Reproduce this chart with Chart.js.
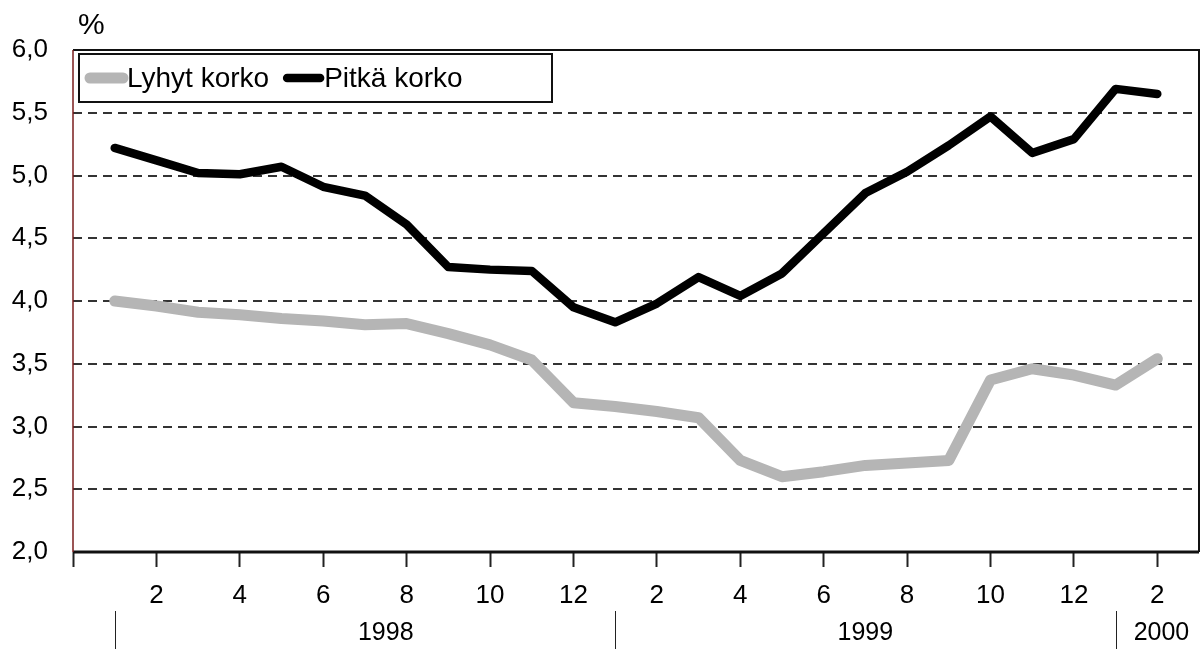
<!DOCTYPE html>
<html>
<head>
<meta charset="utf-8">
<script src="https://cdn.jsdelivr.net/npm/chart.js@4/dist/chart.umd.min.js"></script>
<style>
  html, body { margin: 0; padding: 0; background: #fff; }
  #wrap { width: 1203px; height: 649px; position: relative; }
</style>
</head>
<body>
<div id="wrap"><canvas id="korko-chart"></canvas></div>
<script>
// kuukaudet 1/1998 - 2/2000
const months = ["1","2","3","4","5","6","7","8","9","10","11","12",
                "1","2","3","4","5","6","7","8","9","10","11","12",
                "1","2"];
const lyhytKorko = [4.00, 3.96, 3.91, 3.89, 3.86, 3.84, 3.81, 3.82, 3.74, 3.65, 3.53, 3.19,
                    3.16, 3.12, 3.07, 2.73, 2.60, 2.64, 2.69, 2.71, 2.73, 3.37, 3.46, 3.41,
                    3.33, 3.54];
const pitkaKorko = [5.22, 5.12, 5.02, 5.01, 5.07, 4.91, 4.84, 4.61, 4.27, 4.25, 4.24, 3.95,
                    3.83, 3.98, 4.19, 4.04, 4.22, 4.54, 4.86, 5.03, 5.24, 5.47, 5.18, 5.29,
                    5.69, 5.65];
const yearLabels = ["1998", "1999", "2000"];
const yearStart = [0, 12, 24];     // tammikuun indeksi
const yearCenter = [6.5, 18, 25.1]; // vuoden tekstin kohta

const FONT = "'Liberation Sans', Arial, sans-serif";

const toPoints = (arr) => arr.map((v, i) => ({ x: i, y: v }));

// kehys
const framePlugin = {
  id: "frame",
  beforeDatasetsDraw(chart) {
    const { ctx, chartArea: a } = chart;
    ctx.save();
    ctx.strokeStyle = "#111";
    ctx.lineWidth = 2;
    ctx.beginPath();
    ctx.moveTo(a.left, a.top);
    ctx.lineTo(a.right, a.top);
    ctx.lineTo(a.right, a.bottom);
    ctx.stroke();
    ctx.lineWidth = 3;
    ctx.beginPath();
    ctx.moveTo(a.left, a.bottom);
    ctx.lineTo(a.right, a.bottom);
    ctx.stroke();
    ctx.strokeStyle = "#7a1c1c";
    ctx.lineWidth = 1.5;
    ctx.beginPath();
    ctx.moveTo(a.left, a.top);
    ctx.lineTo(a.left, a.bottom);
    ctx.stroke();
    ctx.restore();
  },
};

// legenda kehyksen sisällä
const legendPlugin = {
  id: "boxLegend",
  afterDatasetsDraw(chart) {
    const { ctx, chartArea: a } = chart;
    const boxX = a.left + 6, boxY = a.top + 4, boxW = 473, boxH = 48;
    ctx.save();
    ctx.fillStyle = "#fff";
    ctx.fillRect(boxX, boxY, boxW, boxH);
    ctx.strokeStyle = "#111";
    ctx.lineWidth = 2;
    ctx.strokeRect(boxX, boxY, boxW, boxH);
    ctx.font = "28px " + FONT;
    ctx.textBaseline = "middle";
    const midY = boxY + boxH / 2;
    let x = boxX + 7;
    chart.data.datasets.forEach((ds) => {
      ctx.strokeStyle = ds.borderColor;
      ctx.lineWidth = ds.borderWidth;
      ctx.lineCap = "round";
      ctx.beginPath();
      ctx.moveTo(x + 4, midY);
      ctx.lineTo(x + 37, midY);
      ctx.stroke();
      x += 41;
      ctx.fillStyle = "#000";
      ctx.fillText(ds.label, x, midY + 1);
      x += ctx.measureText(ds.label).width + 14;
    });
    ctx.restore();
  },
};

// vuodet ja erotinviivat, %-merkki
const yearPlugin = {
  id: "years",
  afterDraw(chart) {
    const { ctx } = chart;
    const xs = chart.scales.x;
    ctx.save();
    ctx.strokeStyle = "#222";
    ctx.lineWidth = 1;
    yearStart.forEach((v) => {
      const px = Math.round(xs.getPixelForValue(v)) + 0.5;
      ctx.beginPath();
      ctx.moveTo(px, 611);
      ctx.lineTo(px, 649);
      ctx.stroke();
    });
    ctx.fillStyle = "#000";
    ctx.font = "25px " + FONT;
    ctx.textAlign = "center";
    ctx.textBaseline = "middle";
    yearLabels.forEach((t, i) => {
      ctx.fillText(t, xs.getPixelForValue(yearCenter[i]), 633);
    });
    ctx.textAlign = "left";
    ctx.font = "30px " + FONT;
    ctx.fillText("%", 78, 26);
    ctx.restore();
  },
};

const ctx = document.getElementById("korko-chart").getContext("2d");
new Chart(ctx, {
  type: "line",
  data: {
    datasets: [
      {
        label: "Lyhyt korko",
        data: toPoints(lyhytKorko),
        borderColor: "#b5b5b5",
        borderWidth: 11,
        pointRadius: 0,
        tension: 0,
        borderJoinStyle: "round",
        borderCapStyle: "round",
      },
      {
        label: "Pitkä korko",
        data: toPoints(pitkaKorko),
        borderColor: "#000",
        borderWidth: 8.5,
        pointRadius: 0,
        tension: 0,
        borderJoinStyle: "round",
        borderCapStyle: "round",
      },
    ],
  },
  options: {
    responsive: true,
    maintainAspectRatio: false,
    animation: false,
    layout: { padding: { top: 50, right: 4, left: 0, bottom: 0 } },
    plugins: {
      legend: { display: false },
      tooltip: { enabled: false },
    },
    scales: {
      x: {
        type: "linear",
        min: -1,
        max: 26,
        afterFit: (scale) => { scale.height = 97; },
        afterBuildTicks: (scale) => {
          const t = [{ value: -1 }];
          for (let i = 1; i < months.length; i += 2) t.push({ value: i });
          scale.ticks = t;
        },
        ticks: {
          autoSkip: false,
          maxRotation: 0,
          padding: 13,
          color: "#000",
          font: { family: FONT, size: 26 },
          callback: (v) => (v >= 0 ? months[v] : ""),
        },
        grid: {
          drawOnChartArea: false,
          drawTicks: true,
          tickLength: 15,
          tickColor: "#222",
          tickWidth: 2,
        },
        border: { display: false },
      },
      y: {
        min: 2,
        max: 6,
        afterFit: (scale) => { scale.width = 73; },
        ticks: {
          stepSize: 0.5,
          padding: 25,
          color: "#000",
          font: { family: FONT, size: 26 },
          callback: (v) => v.toFixed(1).replace(".", ","),
        },
        grid: {
          drawTicks: false,
          lineWidth: 2,
          color: (c) => (c.tick.value <= 2 || c.tick.value >= 6 ? "rgba(0,0,0,0)" : "#333"),
        },
        border: { display: false, dash: [9, 6] },
      },
    },
  },
  plugins: [framePlugin, legendPlugin, yearPlugin],
});
</script>
</body>
</html>
